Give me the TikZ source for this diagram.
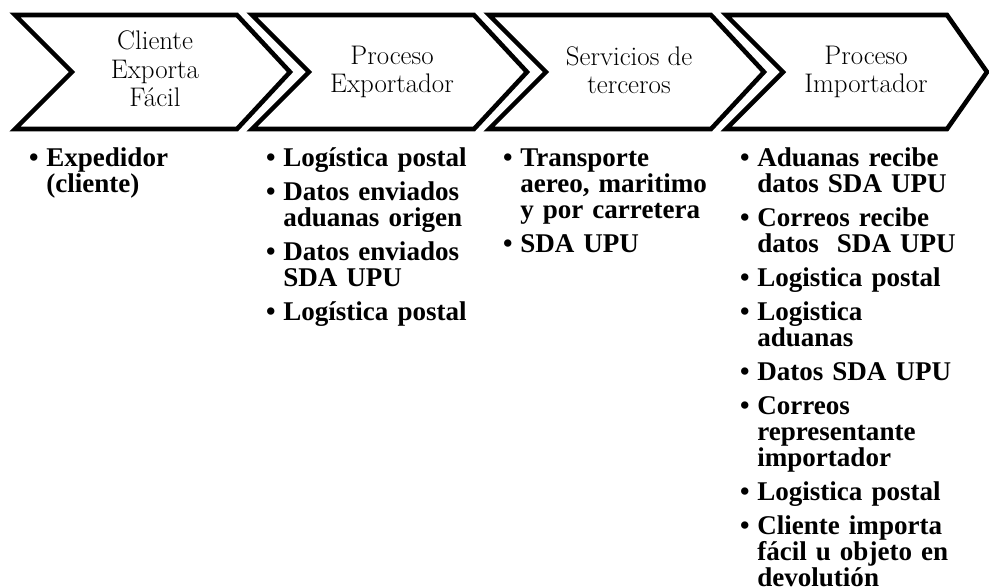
\documentclass[tikz,border=0pt]{standalone}
\usepackage{fontspec}
\newfontfamily\cuerpofont{Liberation Serif}

% lista con vinetas compacta para las columnas
\newenvironment{pasos}{\begin{list}{\textbullet}{%
    \setlength\leftmargin{11.9pt}\setlength\labelsep{4.3pt}%
    \setlength\labelwidth{7pt}\setlength\itemsep{4.3pt}%
    \setlength\parsep{0pt}\setlength\topsep{0pt}\setlength\partopsep{0pt}}}%
  {\end{list}}

\begin{document}
\begin{tikzpicture}[x=0.02cm, y=-0.02cm]
\useasboundingbox (0,0) rectangle (989,586);

\tikzset{chevron/.style={draw=black, line width=2.6pt, line join=miter},
         titulo/.style={align=center, inner sep=0pt,
                        font=\fontsize{15.3pt}{16.2pt}\selectfont},
         lista/.style={anchor=base west, inner sep=0pt, text width=4.6cm,
                       font=\cuerpofont\bfseries\fontsize{15.4pt}{14.95pt}\selectfont}}

% flechas
\foreach \L in {15,252,489}
    \draw[chevron] (\L,15) -- ++(222,0) -- ++(53,57) -- ++(-53,57)
        -- ++(-222,0) -- ++(57,-57) -- cycle;
\draw[chevron] (726,15) -- ++(221,0) -- ++(40,57) -- ++(-40,57)
    -- ++(-221,0) -- ++(57,-57) -- cycle;

\node[titulo] (cliente) at (155,69) {Cliente\\Exporta\\Fácil};
\node[titulo] (exportador) at (392,72) {Proceso\\Exportador};
\node[titulo] (terceros) at (629,70) {Servicios de\\terceros};
\node[titulo] (importador) at (866,72) {Proceso\\Importador};

\node[lista] (listaCliente) at (25,140) {\begin{pasos}
    \item Expedidor\newline (cliente)
\end{pasos}};
\node[lista] (listaExportador) at (262,140) {\begin{pasos}
    \item Logística postal
    \item Datos enviados\newline aduanas origen
    \item Datos enviados\newline SDA UPU
    \item Logística postal
\end{pasos}};
\node[lista] (listaTerceros) at (499,140) {\begin{pasos}
    \item Transporte\newline aereo, maritimo\newline y por carretera
    \item SDA UPU
\end{pasos}};
\node[lista] (listaImportador) at (736,140) {\begin{pasos}
    \item Aduanas recibe\newline datos SDA UPU
    \item Correos recibe\newline datos\ \ SDA UPU
    \item Logistica postal
    \item Logistica\newline aduanas
    \item Datos SDA UPU
    \item Correos\newline representante\newline importador
    \item Logistica postal
    \item Cliente importa\newline fácil u objeto en\newline devolutión
\end{pasos}};
\end{tikzpicture}
\end{document}
